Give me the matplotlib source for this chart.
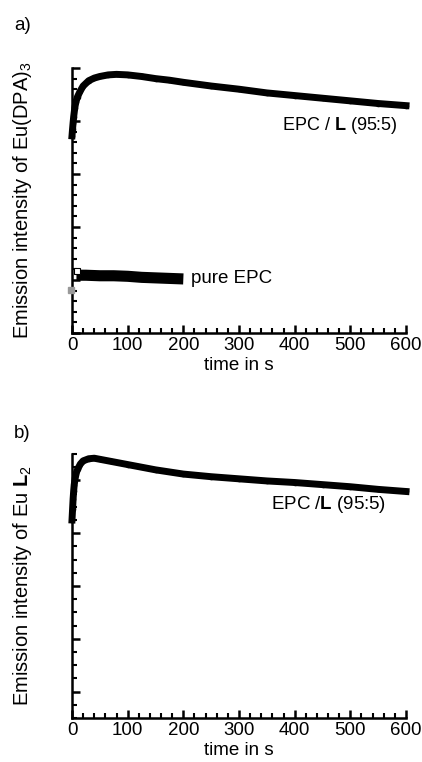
import matplotlib
matplotlib.use("Agg")
import matplotlib.pyplot as plt
from matplotlib.ticker import MultipleLocator, FixedLocator

plt.rcParams['font.family'] = ['Liberation Sans', 'DejaVu Sans']
plt.rcParams['mathtext.fontset'] = 'custom'
plt.rcParams['mathtext.rm'] = 'Liberation Sans'
plt.rcParams['mathtext.bf'] = 'Liberation Sans:bold'
plt.rcParams['mathtext.it'] = 'Liberation Sans:italic'

# Panel a: Eu(DPA)3, EPC / L (95:5)
t_a = [0, 1, 2, 3, 5, 7, 10, 15, 20, 30, 40, 50, 65, 80, 100, 125, 150, 175, 200,
       250, 300, 350, 400, 450, 500, 550, 600]
y_a = [3.72, 3.85, 3.97, 4.08, 4.25, 4.36, 4.46, 4.57, 4.66, 4.76, 4.81, 4.84, 4.87,
       4.88, 4.87, 4.84, 4.80, 4.77, 4.73, 4.66, 4.60, 4.53, 4.48, 4.43, 4.38, 4.33, 4.29]

# Panel a: pure EPC
t_pure = [8, 25, 50, 75, 100, 125, 150, 175, 200]
y_pure = [1.09, 1.09, 1.08, 1.08, 1.07, 1.05, 1.04, 1.03, 1.02]
t_open = [9]
y_open = [1.17]
t_gray = [-2]
y_gray = [0.82]

# Panel b: EuL2, EPC / L (95:5)
t_b = [0, 1, 2, 3, 4, 6, 8, 10, 15, 20, 30, 40, 50, 70, 100, 150, 200, 250, 300,
       350, 400, 450, 500, 550, 600]
y_b = [3.25, 3.45, 3.65, 3.8, 3.92, 4.06, 4.15, 4.21, 4.31, 4.37, 4.41, 4.42, 4.40,
       4.36, 4.30, 4.20, 4.12, 4.07, 4.03, 3.99, 3.96, 3.92, 3.88, 3.83, 3.79]

xticks = [0, 100, 200, 300, 400, 500, 600]

W, H = 422, 762
fig = plt.figure(figsize=(W / 100, H / 100), dpi=100)

def setup(ax, ylim, majors, minor_step):
    ax.set_xlim(0, 600)
    ax.set_ylim(*ylim)
    for s in ['top', 'right']:
        ax.spines[s].set_visible(False)
    for s in ['left', 'bottom']:
        ax.spines[s].set_linewidth(1.8)
    ax.xaxis.set_major_locator(FixedLocator(xticks))
    ax.xaxis.set_minor_locator(MultipleLocator(20))
    ax.yaxis.set_major_locator(FixedLocator(majors))
    ax.yaxis.set_minor_locator(MultipleLocator(minor_step))
    ax.tick_params(which='major', direction='in', length=6, width=1.8, labelsize=13.5, pad=3)
    ax.tick_params(which='minor', direction='in', length=3.5, width=1.5)
    ax.tick_params(axis='y', which='both', labelleft=False)
    ax.set_xlabel('time in s', fontsize=13.5, labelpad=2)

ax1 = fig.add_axes([72 / W, 1 - 333 / H, 334 / W, 265 / H])
setup(ax1, (0, 5), [0, 1, 2, 3, 4, 5], 0.2)
ax1.plot(t_a, y_a, '-', color='black', lw=5, marker='o', ms=3, clip_on=False, zorder=3)
ax1.plot(t_pure, y_pure, '-', color='black', lw=8, solid_capstyle='butt', clip_on=False, zorder=3)
ax1.plot(t_open, y_open, 's', mfc='white', mec='black', ms=5, mew=0.8, clip_on=False, zorder=4)
ax1.plot(t_gray, y_gray, 's', color='#999999', ms=4, clip_on=False, zorder=4)
ax1.text(377, 3.92, r'EPC / $\mathbf{L}$ (95:5)', fontsize=13, va='center', ha='left')
ax1.text(214, 1.02, 'pure EPC', fontsize=13.5, va='center', ha='left')
ax1.set_ylabel(r'Emission intensity of Eu(DPA)$_3$', fontsize=14.5)
ax1.yaxis.set_label_coords(-0.115, 0.5)
fig.text(14 / W, 1 - 25 / H, 'a)', fontsize=13.5, va='center', ha='left')

ax2 = fig.add_axes([72 / W, 1 - 718 / H, 334 / W, 264 / H])
setup(ax2, (-0.5, 4.5), [0, 1, 2, 3, 4], 0.25)
ax2.plot(t_b, y_b, '-', color='black', lw=5, marker='o', ms=3, clip_on=False, zorder=3)
ax2.text(358, 3.55, r'EPC /$\mathbf{L}$ (95:5)', fontsize=13.5, va='center', ha='left')
ax2.set_ylabel(r'Emission intensity of Eu $\mathbf{L}_2$', fontsize=14.5)
ax2.yaxis.set_label_coords(-0.115, 0.5)
fig.text(14 / W, 1 - 433 / H, 'b)', fontsize=13.5, va='center', ha='left')

fig.savefig('out.png', dpi=100)
